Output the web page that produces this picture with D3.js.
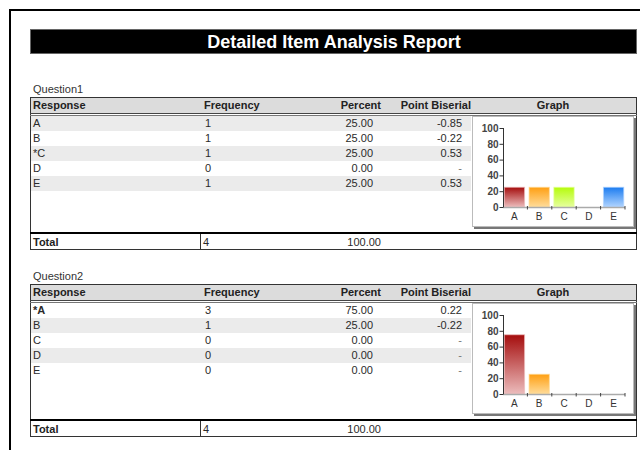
<!DOCTYPE html>
<html>
<head>
<meta charset="utf-8">
<script src="https://cdn.jsdelivr.net/npm/d3@7"></script>
<style>
  body { margin: 0; background: #fff; }
  svg { display: block; font-family: "Liberation Sans", Arial, sans-serif; }
</style>
</head>
<body>
<svg id="report" width="640" height="450"></svg>
<script>
// data
const responses = ['A', 'B', 'C', 'D', 'E'];
const q1Freq = [1, 1, 1, 0, 1];
const q1Pct = [25, 25, 25, 0, 25];
const q1Pb = ['-0.85', '-0.22', '0.53', '-', '0.53'];
const q2Freq = [3, 1, 0, 0, 0];
const q2Pct = [75, 25, 0, 0, 0];
const q2Pb = ['0.22', '-0.22', '-', '-', '-'];
const yTicks = [0, 20, 40, 60, 80, 100];

const questions = [
  { name: 'Question1', key: 'C', keyBold: false, freq: q1Freq, pct: q1Pct, pb: q1Pb, shadeOdd: false, top: 0 },
  { name: 'Question2', key: 'A', keyBold: true, freq: q2Freq, pct: q2Pct, pb: q2Pb, shadeOdd: true, top: 187 }
];

// gradient colours per response (top, bottom)
const barColors = [
  ['#a50d0d', '#ecbcbc'],
  ['#ff9f12', '#ffdc9a'],
  ['#b5fb0c', '#e6ff9e'],
  ['#8a6fd8', '#d6ccf5'],
  ['#1c7cf0', '#b0d4ff']
];

const svg = d3.select('#report');
const defs = svg.append('defs');

barColors.forEach((c, i) => {
  const grad = defs.append('linearGradient')
    .attr('id', 'bar' + i)
    .attr('x1', '0%').attr('x2', '0%')
    .attr('y1', '0%').attr('y2', '100%');
  grad.append('stop').attr('offset', '0%').attr('stop-color', c[0]);
  grad.append('stop').attr('offset', '100%').attr('stop-color', c[1]);
});

// page frame
svg.append('rect')
  .attr('x', 10).attr('y', 10)
  .attr('width', 700).attr('height', 500)
  .attr('fill', 'none')
  .attr('stroke', '#000')
  .attr('stroke-width', 2);

// title bar
svg.append('rect')
  .attr('x', 30.5).attr('y', 29.5)
  .attr('width', 606).attr('height', 24)
  .attr('fill', '#000')
  .attr('stroke', '#666');
svg.append('text')
  .attr('x', 334).attr('y', 48)
  .attr('text-anchor', 'middle')
  .attr('fill', '#fff')
  .attr('font-size', 18)
  .attr('font-weight', 'bold')
  .text('Detailed Item Analysis Report');

const rowH = 15;
const textCol = '#2a2a2a';

function drawQuestion(q) {
  const g = svg.append('g').attr('transform', `translate(0, ${q.top})`);

  g.append('text')
    .attr('x', 33).attr('y', 93)
    .attr('font-size', 11)
    .attr('fill', '#333')
    .text(q.name);

  // outer border of table
  g.append('rect')
    .attr('x', 30.5).attr('y', 97.5)
    .attr('width', 606).attr('height', 152)
    .attr('fill', '#fff')
    .attr('stroke', '#333');

  // header
  g.append('rect')
    .attr('x', 31).attr('y', 98)
    .attr('width', 605).attr('height', 15)
    .attr('fill', '#dcdcdc');
  g.append('line')
    .attr('x1', 30).attr('x2', 637)
    .attr('y1', 113.5).attr('y2', 113.5)
    .attr('stroke', '#444');
  g.append('line')
    .attr('x1', 30).attr('x2', 637)
    .attr('y1', 115.5).attr('y2', 115.5)
    .attr('stroke', '#777');

  const hdr = g.append('g')
    .attr('font-size', 11)
    .attr('font-weight', 'bold')
    .attr('fill', '#222');
  hdr.append('text').attr('x', 33).attr('y', 109).text('Response');
  hdr.append('text').attr('x', 204).attr('y', 109).text('Frequency');
  hdr.append('text').attr('x', 381).attr('y', 109).attr('text-anchor', 'end').text('Percent');
  hdr.append('text').attr('x', 471).attr('y', 109).attr('text-anchor', 'end').text('Point Biserial');
  hdr.append('text').attr('x', 553).attr('y', 109).attr('text-anchor', 'middle').text('Graph');

  // body rows
  const rows = g.selectAll('.row')
    .data(responses)
    .enter().append('g')
    .attr('class', 'row')
    .attr('transform', (d, i) => `translate(0, ${116 + i * rowH})`);

  rows.filter((d, i) => (i % 2 === 1) === q.shadeOdd)
    .append('rect')
    .attr('x', 31).attr('y', 0)
    .attr('width', 440).attr('height', rowH)
    .attr('fill', '#ebebeb');

  rows.append('text')
    .attr('x', 33).attr('y', 11)
    .attr('font-size', 11)
    .attr('fill', textCol)
    .attr('font-weight', d => (d === q.key && q.keyBold) ? 'bold' : 'normal')
    .text(d => (d === q.key ? '*' : '') + d);

  rows.append('text')
    .attr('x', 205).attr('y', 11)
    .attr('font-size', 11)
    .attr('fill', textCol)
    .text((d, i) => q.freq[i]);

  rows.append('text')
    .attr('x', 373).attr('y', 11)
    .attr('text-anchor', 'end')
    .attr('font-size', 11)
    .attr('fill', textCol)
    .text((d, i) => q.pct[i].toFixed(2));

  rows.append('text')
    .attr('x', 462).attr('y', 11)
    .attr('text-anchor', 'end')
    .attr('font-size', 11)
    .attr('fill', (d, i) => q.pb[i] === '-' ? '#777' : textCol)
    .text((d, i) => q.pb[i]);

  // graph box with shadow
  g.append('rect')
    .attr('x', 474).attr('y', 118)
    .attr('width', 162).attr('height', 111)
    .attr('fill', '#777');
  g.append('rect')
    .attr('x', 472.5).attr('y', 116.5)
    .attr('width', 161).attr('height', 110)
    .attr('fill', '#fff')
    .attr('stroke', '#bbb');

  const x = d3.scaleBand()
    .domain(responses)
    .range([503, 625])
    .paddingInner(0.18)
    .paddingOuter(0.05);
  const y = d3.scaleLinear()
    .domain([0, 100])
    .range([207, 128]);

  // bars
  g.selectAll('.bar')
    .data(responses)
    .enter().append('rect')
    .attr('class', 'bar')
    .attr('x', d => x(d))
    .attr('width', x.bandwidth())
    .attr('y', (d, i) => y(q.pct[i]))
    .attr('height', (d, i) => y(0) - y(q.pct[i]))
    .attr('fill', (d, i) => `url(#bar${i})`)
    .attr('stroke', (d, i) => barColors[i][1])
    .attr('stroke-opacity', 0.7)
    .attr('stroke-width', 1)
    .style('display', (d, i) => q.pct[i] > 0 ? null : 'none');

  // x axis: light line with dark marks at band edges
  g.append('line')
    .attr('x1', 503).attr('x2', 625)
    .attr('y1', y(0) + 0.5).attr('y2', y(0) + 0.5)
    .attr('stroke', '#aaa')
    .attr('stroke-width', 1.5);
  const step = (x.range()[1] - x.range()[0]) / responses.length;
  g.selectAll('.xmark')
    .data(responses)
    .enter().append('line')
    .attr('class', 'xmark')
    .attr('x1', (d, i) => x.range()[0] + (i + 1) * step)
    .attr('x2', (d, i) => x.range()[0] + (i + 1) * step)
    .attr('y1', y(0) - 1).attr('y2', y(0) + 2.5)
    .attr('stroke', '#444');

  g.selectAll('.xlab')
    .data(responses)
    .enter().append('text')
    .attr('class', 'xlab')
    .attr('x', d => x(d) + x.bandwidth() / 2)
    .attr('y', y(0) + 13)
    .attr('text-anchor', 'middle')
    .attr('font-size', 10)
    .attr('fill', '#333')
    .text(d => d);

  // y axis
  const yAxis = g.append('g')
    .attr('transform', 'translate(503.5, 0)')
    .call(d3.axisLeft(y).tickValues(yTicks).tickSize(4).tickPadding(1));
  yAxis.select('.domain')
    .attr('d', `M0,${y(100)}V${y(0)}`)
    .attr('stroke', '#333');
  yAxis.selectAll('.tick line').attr('stroke', '#333');
  yAxis.selectAll('.tick text')
    .attr('font-size', 10)
    .attr('font-family', '"Liberation Sans", Arial, sans-serif')
    .attr('font-weight', 'bold')
    .attr('fill', '#444');

  // total row
  g.append('line')
    .attr('x1', 30).attr('x2', 637)
    .attr('y1', 233).attr('y2', 233)
    .attr('stroke', '#000')
    .attr('stroke-width', 2);
  g.append('line')
    .attr('x1', 200.5).attr('x2', 200.5)
    .attr('y1', 234).attr('y2', 250)
    .attr('stroke', '#333');
  g.append('text')
    .attr('x', 33).attr('y', 246)
    .attr('font-size', 11)
    .attr('font-weight', 'bold')
    .attr('fill', '#222')
    .text('Total');
  g.append('text')
    .attr('x', 203).attr('y', 246)
    .attr('font-size', 11)
    .attr('fill', textCol)
    .text(d3.sum(q.freq));
  g.append('text')
    .attr('x', 381).attr('y', 246)
    .attr('text-anchor', 'end')
    .attr('font-size', 11)
    .attr('fill', textCol)
    .text(d3.sum(q.pct).toFixed(2));
}

questions.forEach(drawQuestion);
</script>
</body>
</html>
